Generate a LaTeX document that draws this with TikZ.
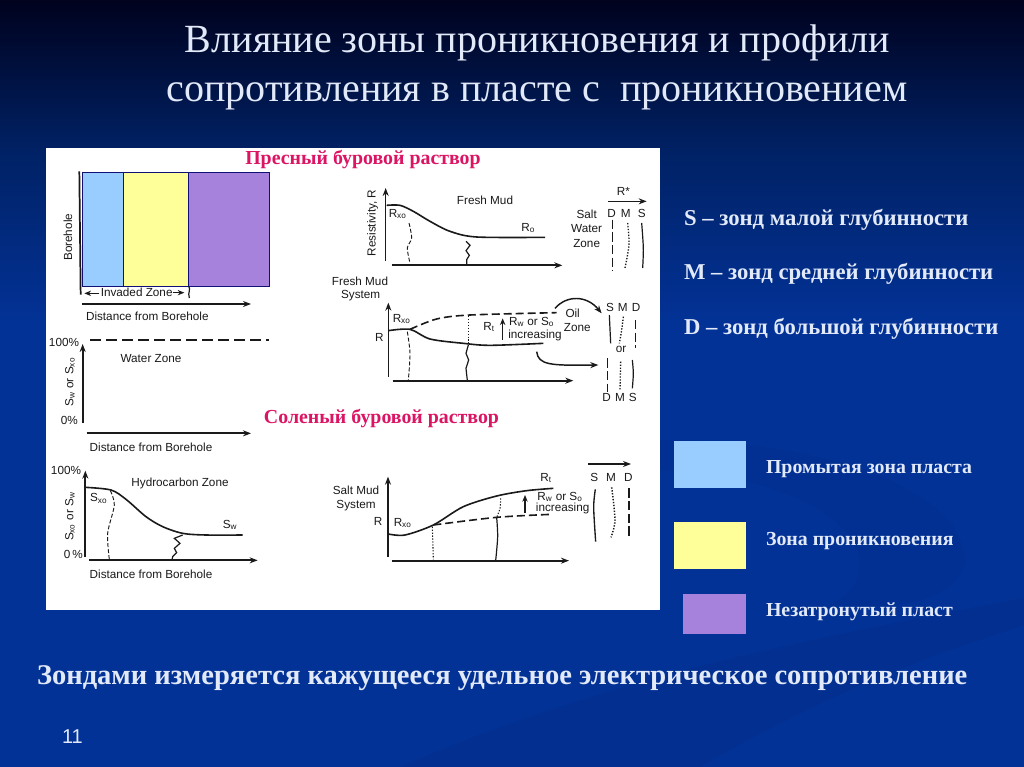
\documentclass[tikz,border=0pt]{standalone}
\usepackage{fontspec}
\setmainfont{Liberation Serif}
\setsansfont{Liberation Sans}
\usetikzlibrary{arrows.meta}
\definecolor{washblue}{HTML}{99CCFF}
\definecolor{invyellow}{HTML}{FFFF99}
\definecolor{virgin}{HTML}{A682DD}
\definecolor{redlab}{HTML}{DC1464}
\definecolor{txtlight}{HTML}{E2E9F8}
\definecolor{ink}{HTML}{1A1A1A}
\definecolor{bga}{HTML}{00021E}
\definecolor{bgb}{HTML}{002164}
\definecolor{bgc}{HTML}{033296}
\definecolor{swa}{HTML}{022F90}
\definecolor{swb}{HTML}{023092}
\tikzset{
 every node/.style={inner sep=0pt,outer sep=0pt,text=ink},
 sm/.style={font=\sffamily\fontsize{8.8}{10}\selectfont,align=center},
 smr/.style={sm,rotate=90},
 axis/.style={draw=ink,line width=1.4pt,-{Stealth[length=6pt,width=4.5pt]}},
 thinax/.style={draw=ink,line width=.8pt,-{Stealth[length=5pt,width=4pt]}},
 curve/.style={draw=ink,line width=1.2pt},
 dcurve/.style={draw=ink,line width=1.2pt,dash pattern=on 6pt off 3pt},
 trace/.style={draw=ink,line width=.7pt,dash pattern=on 3pt off 1.5pt},
 dotty/.style={draw=ink,line width=.8pt,dash pattern=on 1pt off 1.2pt},
 solidw/.style={draw=ink,line width=.9pt},
 dashw/.style={draw=ink,line width=.9pt,dash pattern=on 7pt off 2.5pt},
 redt/.style={font=\bfseries\fontsize{14.9}{16}\selectfont,text=redlab},
 titlet/.style={font=\fontsize{30}{36}\selectfont,text=txtlight,anchor=base},
 probe/.style={font=\bfseries\fontsize{17}{20}\selectfont,text=txtlight,anchor=base west},
 legt/.style={font=\bfseries\fontsize{14.9}{17}\selectfont,text=txtlight,anchor=base west},
 zone/.style={draw=ink!60!blue,line width=.5pt},
}
\begin{document}
\begin{tikzpicture}[x=0.75pt,y=-0.75pt]
\useasboundingbox (0,0) rectangle (1024,767);
% background
\shade[top color=bga,bottom color=bgb] (0,0) rectangle (1024,150);
\shade[top color=bgb,bottom color=bgc] (0,150) rectangle (1024,320);
\fill[bgc] (0,320) rectangle (1024,767);
% swooshes
\fill[swa] (1024,598) .. controls (800,640) and (600,680) .. (400,767) -- (700,767) .. controls (850,680) and (950,650) .. (1024,625) -- cycle;
\fill[swb] (660,440) .. controls (800,440) and (960,480) .. (965,560) .. controls (960,600) and (900,610) .. (830,605) .. controls (900,570) and (850,480) .. (660,470) -- cycle;
% panel
\fill[white] (46,148) rectangle (660,610);
% zones
\fill[washblue] (82.7,172.7) rectangle (123.7,286);
\fill[invyellow] (123.7,172.7) rectangle (188,286);
\fill[virgin] (188,172.7) rectangle (269,286);
\draw[zone] (82.7,172.7) rectangle (269,286) (123.7,172.7) -- (123.7,286) (188,172.7) -- (188,286);
% ---- left top
\begin{scope}[shift={(46,148)},x=.25pt,y=-.25pt]
\draw[draw=ink,line width=1.3pt] (100,70) -- (104,440);
\node[smr] (bh) at (66,268) {Borehole};
\node[sm] (iz) at (272,433) {Invaded Zone};
\draw[thinax] (160,436) -- (115,436);
\draw[thinax] (380,434) -- (415,434);
\draw[solidw] (428,415) .. controls (436,425) and (424,432) .. (430,450);
\node[sm] (d1) at (304,506) {Distance from Borehole};
\draw[axis] (108,468) -- (615,468);
\node[sm] (p100) at (54,583) {100\%};
\draw[draw=ink,line width=1.2pt,dash pattern=on 8pt off 4pt] (133,576) -- (670,576);
\node[sm] (wz) at (315,632) {Water Zone};
\draw[axis] (110,825) -- (110,588);
\end{scope}
\node[smr] (swsxo) at (70,382) {S\textsubscript{w} or S\textsubscript{xo}};
% ---- left mid/bottom
\begin{scope}[shift={(46,400)},x=.25pt,y=-.25pt]
\node[sm] (p0) at (70,62) {0\%};
\draw[axis] (122,100) -- (615,100);
\node[sm] (d2) at (315,142) {Distance from Borehole};
\node[sm] (p100b) at (60,210) {100\%};
\draw[axis] (118,470) -- (118,212);
\node[smr] (sxosw) at (72,350) {S\textsubscript{xo} or S\textsubscript{w}};
\node[sm] (p0b) at (82,462) {0\,\%};
\draw[axis] (130,481) -- (635,481);
\node[sm] (d3) at (315,522) {Distance from Borehole};
\node[sm] (hz) at (402,249) {Hydrocarbon Zone};
\node[sm] (sxo) at (158,295) {S\textsubscript{xo}};
\node[sm] (sw) at (552,375) {S\textsubscript{w}};
\draw[curve] plot[smooth] coordinates {(118,262) (195,270) (240,298) (300,350) (350,380) (410,400) (480,405) (590,405)};
\draw[trace] plot[smooth] coordinates {(193,272) (205,315) (185,400) (190,478)};
\draw[solidw] plot coordinates {(410,405) (385,415) (402,430) (385,445) (392,458) (380,470) (378,480)};
\end{scope}
% ---- fresh mud top right
\begin{scope}[shift={(330,148)},x=.25pt,y=-.25pt]
\draw[axis,line width=1.1pt] (167,338) -- (167,120);
\draw[axis] (185,352) -- (697,352);
\node[smr] (res) at (128,225) {Resistivity, R};
\node[sm] (fm) at (465,157) {Fresh Mud};
\node[sm] (rxo1) at (203,198) {R\textsubscript{xo}};
\node[sm] (ro) at (595,240) {R\textsubscript{o}};
\draw[curve] plot[smooth] coordinates {(170,172) (210,172) (250,190) (300,220) (360,250) (440,267) (645,268)};
\draw[trace] plot[smooth] coordinates {(237,225) (245,270) (232,300) (240,345)};
\draw[solidw] plot coordinates {(408,280) (420,292) (408,308) (418,322) (410,335) (410,352)};
\node[sm] (rstar) at (880,130) {R*};
\draw[axis,line width=1pt] (835,160) -- (950,160);
\node[sm] (swz1) at (770,200) {Salt};
\node[sm] (swz2) at (770,242) {Water};
\node[sm] (swz3) at (770,287) {Zone};
\node[sm] (dd) at (845,195) {D};
\node[sm] (mm) at (887,195) {M};
\node[sm] (ss) at (935,195) {S};
\draw[dashw] (847,215) -- (847,370);
\draw[dotty,line width=1pt] plot[smooth] coordinates {(893,225) (897,290) (885,360)};
\draw[solidw] plot[smooth] coordinates {(935,225) (940,300) (938,360)};
\end{scope}
% ---- fresh mud system
\begin{scope}[shift={(330,270)},x=.25pt,y=-.25pt]
\node[sm] (fm1) at (90,33) {Fresh Mud};
\node[sm] (fm2) at (92,77) {System};
\node[sm] (r2) at (148,202) {R};
\draw[axis,line width=1.1pt] (175,320) -- (175,98);
\draw[axis] (188,332) -- (730,332);
\node[sm] (rxo2) at (215,147) {R\textsubscript{xo}};
\draw[curve] plot[smooth] coordinates {(175,182) (240,178) (300,207) (400,220) (480,226) (640,220)};
\draw[dcurve] plot[smooth] coordinates {(240,178) (320,147) (420,135) (680,128)};
\draw[trace] plot[smooth] coordinates {(232,185) (240,250) (235,330)};
\draw[dotty] (415,138) -- (415,220);
\draw[solidw] plot coordinates {(415,225) (408,250) (416,270) (408,295) (412,332)};
\node[sm] (rt2) at (477,170) {R\textsubscript{t}};
\draw[thinax] (518,210) -- (518,145);
\node[sm] (rw2) at (605,155) {R\textsubscript{w} or S\textsubscript{o}};
\node[sm] (inc2) at (615,196) {increasing};
\node[sm] (oil1) at (728,130) {Oil};
\node[sm] (oil2) at (742,172) {Zone};
\draw[axis,line width=1.1pt] (675,115) .. controls (710,75) and (770,75) .. (815,130);
\draw[axis,line width=1.1pt] (620,245) .. controls (625,285) and (660,287) .. (805,285);
\node[sm] (s2) at (840,112) {S};
\node[sm] (m2) at (878,112) {M};
\node[sm] (d2b) at (918,112) {D};
\draw[solidw] (838,135) -- (842,220);
\draw[dotty,line width=1pt] plot[smooth] coordinates {(880,140) (875,180) (868,220)};
\draw[dashw] (917,150) -- (917,235);
\node[sm] (ortxt) at (873,238) {or};
\draw[dashw] (833,265) -- (833,365);
\draw[dotty,line width=1pt] (872,275) -- (870,360);
\draw[solidw] plot[smooth] coordinates {(907,270) (910,310) (907,355)};
\node[sm] (d3b) at (830,382) {D};
\node[sm] (m3) at (870,382) {M};
\node[sm] (s3) at (908,382) {S};
\end{scope}
% ---- salt mud system
\begin{scope}[shift={(330,400)},x=.25pt,y=-.25pt]
\node[sm] (sm1) at (78,272) {Salt Mud};
\node[sm] (sm2) at (78,317) {System};
\node[sm] (r3) at (144,363) {R};
\draw[axis,line width=1.1pt] (174,470) -- (174,230);
\draw[axis] (185,482) -- (717,482);
\node[sm] (rxo3) at (218,368) {R\textsubscript{xo}};
\draw[curve] plot[smooth] coordinates {(175,402) (225,405) (310,375) (400,320) (500,288) (590,272) (670,265)};
\draw[dcurve] plot[smooth] coordinates {(310,375) (500,352) (665,343)};
\draw[dotty] (307,380) -- (310,478);
\draw[dotty] plot[smooth] coordinates {(512,295) (510,325) (500,352)};
\draw[solidw] plot[smooth] coordinates {(500,352) (503,410) (497,482)};
\draw[thinax] (585,340) -- (585,285);
\node[sm] (rt3) at (648,233) {R\textsubscript{t}};
\node[sm] (rw3) at (690,290) {R\textsubscript{w} or S\textsubscript{o}};
\node[sm] (inc3) at (698,326) {increasing};
\draw[axis,line width=1pt] (775,192) -- (903,192);
\node[sm] (s4) at (793,232) {S};
\node[sm] (m4) at (843,232) {M};
\node[sm] (d4) at (895,232) {D};
\draw[solidw,line width=1pt] plot[smooth] coordinates {(796,268) (791,322) (797,425)};
\draw[dotty,line width=1.1pt] plot[smooth] coordinates {(845,262) (855,360) (843,412)};
\draw[dashw] (897,265) -- (897,415);
\end{scope}
% red labels
\node[redt] (fresh) at (363,160) {Пресный буровой раствор};
\node[redt] (salt) at (381.5,419) {Соленый буровой раствор};
% title
\node[titlet] (t1) at (537.5,53) {Влияние зоны проникновения и профили};
\node[titlet] (t2) at (537,102) {сопротивления в пласте с\ \ проникновением};
% probes
\node[probe] (pS) at (684,225) {S – зонд малой глубинности};
\node[probe] (pM) at (684,279) {M – зонд средней глубинности};
\node[probe] (pD) at (684,334) {D – зонд большой глубинности};
% legend
\fill[washblue] (674,441) rectangle (746,488);
\fill[invyellow] (674,522) rectangle (746,569);
\fill[virgin] (683,594) rectangle (746,634);
\node[legt] (l1) at (766,473) {Промытая зона пласта};
\node[legt] (l2) at (766,545) {Зона проникновения};
\node[legt] (l3) at (766,616) {Незатронутый пласт};
% bottom
\node[font=\bfseries\fontsize{21.4}{24}\selectfont,text=txtlight,anchor=base west] (foot) at (37,684) {Зондами измеряется кажущееся удельное электрическое сопротивление};
\node[font=\sffamily\fontsize{15}{18}\selectfont,text=txtlight,anchor=base west] (num) at (62,743) {11};
\end{tikzpicture}
\end{document}
